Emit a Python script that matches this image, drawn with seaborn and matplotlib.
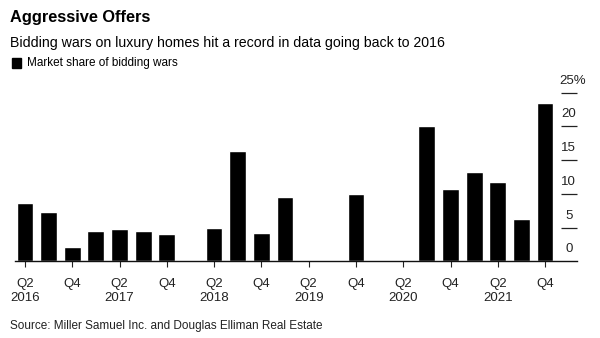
import matplotlib
matplotlib.use("Agg")
import matplotlib.pyplot as plt
import matplotlib.transforms as mtransforms
import pandas as pd
import seaborn as sns

quarters = ["Q2 2016", "Q3 2016", "Q4 2016",
            "Q1 2017", "Q2 2017", "Q3 2017", "Q4 2017",
            "Q1 2018", "Q2 2018", "Q3 2018", "Q4 2018",
            "Q1 2019", "Q2 2019", "Q3 2019", "Q4 2019",
            "Q1 2020", "Q2 2020", "Q3 2020", "Q4 2020",
            "Q1 2021", "Q2 2021", "Q3 2021", "Q4 2021"]
share = [8.6, 7.3, 2.1,
         4.5, 4.8, 4.5, 4.0,
         0.0, 5.0, 16.4, 4.2,
         9.5, 0.0, 0.0, 10.0,
         0.0, 0.0, 20.0, 10.7,
         13.3, 11.7, 6.3, 23.5]
y_ticks = [0, 5, 10, 15, 20, 25]
y_labels = ["0", "5", "10", "15", "20", "25%"]

sns.set_theme(style="white")
plt.rcParams["font.family"] = ["Liberation Sans", "DejaVu Sans"]

df = pd.DataFrame({"quarter": quarters, "share": share})

fig = plt.figure(figsize=(6.0, 3.38), dpi=100)
ax = fig.add_axes([0.025, 0.2266, 0.9367, 0.4991])

sns.barplot(data=df, x="quarter", y="share", color="black",
            saturation=1, width=0.71, ax=ax)

ax.set_xlim(-0.42, 23.35)
ax.set_ylim(0, 25)

for s in ["top", "left", "right"]:
    ax.spines[s].set_visible(False)
ax.spines["bottom"].set_color("#111111")
ax.spines["bottom"].set_linewidth(1.0)

# x ticks on Q2 / Q4, year under each Q2
tick_pos = list(range(0, len(quarters), 2))
tick_lbl = []
for i in tick_pos:
    q, yr = quarters[i].split()
    tick_lbl.append(f"{q}\n{yr}" if q == "Q2" else q)
ax.set_xticks(tick_pos)
ax.set_xticklabels(tick_lbl, fontsize=9.5, color="#222222", linespacing=1.25)
ax.tick_params(axis="x", direction="out", length=4, width=0.8,
               color="#222222", pad=8, bottom=True)
ax.set_xlabel("")
ax.set_ylabel("")

# right-hand value scale: short rules with labels sitting above them
ax.set_yticks([])
trans = mtransforms.blended_transform_factory(ax.transAxes, ax.transData)
for v, lab in zip(y_ticks[1:], y_labels[1:]):
    ax.plot([0.971, 1.0], [v, v], transform=trans, color="#222222",
            lw=0.9, clip_on=False, solid_capstyle="butt")
for v, lab in zip(y_ticks, y_labels):
    ax.text(0.9855 if lab != "25%" else 0.993, v + 0.9, lab, transform=trans,
            ha="center", va="bottom", fontsize=9.5, color="#222222")

fig.text(0.017, 0.947, "Aggressive Offers", fontsize=11.8, fontweight="bold",
         color="black", ha="left", va="center")
fig.text(0.017, 0.874, "Bidding wars on luxury homes hit a record in data going back to 2016",
         fontsize=10.2, color="black", ha="left", va="center")
fig.patches.append(plt.Rectangle((0.02, 0.8), 0.015, 0.027,
                                 transform=fig.transFigure, color="black"))
fig.text(0.045, 0.813, "Market share of bidding wars", fontsize=8.5,
         color="black", ha="left", va="center")
fig.text(0.017, 0.035, "Source: Miller Samuel Inc. and Douglas Elliman Real Estate",
         fontsize=8.5, color="#222222", ha="left", va="center")

fig.savefig("out.png", dpi=100)
